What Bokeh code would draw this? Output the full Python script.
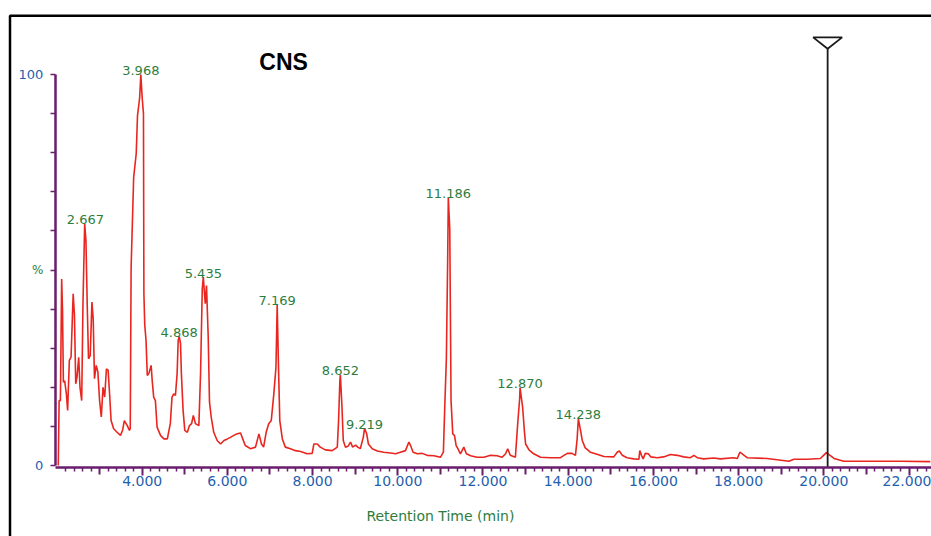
import numpy as np
from bokeh.plotting import figure
from bokeh.models import Range1d, LinearAxis, FixedTicker, NumeralTickFormatter, Label
from bokeh.core.properties import value
from bokeh.embed import file_html
from bokeh.resources import INLINE

# ---------------- data ----------------
rt = [2.03, 2.05, 2.08, 2.11, 2.13, 2.15, 2.18, 2.22, 2.25, 2.29, 2.33, 2.38, 2.41, 2.44, 2.47,
      2.51, 2.54, 2.58, 2.61, 2.65, 2.68, 2.71, 2.74, 2.78, 2.82, 2.85, 2.88, 2.92, 2.96, 3.00,
      3.04, 3.08, 3.12, 3.16, 3.20, 3.23, 3.27, 3.33, 3.41, 3.49, 3.54, 3.58, 3.65, 3.70, 3.72,
      3.74, 3.80, 3.86, 3.89, 3.94, 3.968, 4.00, 4.03, 4.04, 4.06, 4.09, 4.12, 4.155, 4.21, 4.235,
      4.27, 4.31, 4.35, 4.43, 4.51, 4.59, 4.66, 4.70, 4.74, 4.78, 4.82, 4.845, 4.868, 4.90, 4.92,
      4.96, 5.00, 5.06, 5.11, 5.16, 5.20, 5.25, 5.33, 5.37, 5.41, 5.435, 5.48, 5.51, 5.55, 5.58,
      5.62, 5.68, 5.76, 5.84, 5.92, 6.00, 6.07, 6.15, 6.23, 6.31, 6.36, 6.42, 6.54, 6.66, 6.74,
      6.80, 6.85, 6.91, 6.97, 7.03, 7.09, 7.14, 7.169, 7.20, 7.23, 7.29, 7.36, 7.48, 7.60, 7.72,
      7.87, 7.99, 8.03, 8.11, 8.18, 8.30, 8.46, 8.58, 8.61, 8.64, 8.652, 8.69, 8.72, 8.77, 8.83,
      8.89, 8.94, 9.01, 9.06, 9.12, 9.19, 9.219, 9.27, 9.31, 9.40, 9.52, 9.67, 9.83, 9.95, 10.06,
      10.18, 10.26, 10.30, 10.36, 10.46, 10.57, 10.69, 10.85, 11.00, 11.07, 11.10, 11.14, 11.17, 11.186, 11.22,
      11.25, 11.29, 11.33, 11.37, 11.41, 11.47, 11.55, 11.61, 11.71, 11.86, 12.02, 12.18, 12.33, 12.45, 12.53,
      12.58, 12.64, 12.76, 12.82, 12.86, 12.870, 12.93, 12.97, 13.00, 13.08, 13.19, 13.35, 13.58, 13.82, 13.90,
      13.98, 14.09, 14.17, 14.21, 14.238, 14.29, 14.33, 14.40, 14.52, 14.64, 14.84, 15.07, 15.15, 15.20, 15.27,
      15.38, 15.54, 15.66, 15.68, 15.72, 15.76, 15.81, 15.88, 15.94, 16.09, 16.24, 16.40, 16.56, 16.71, 16.87,
      16.95, 17.03, 17.18, 17.42, 17.57, 17.88, 17.97, 18.03, 18.20, 18.67, 19.18, 19.30, 19.61, 19.92, 20.06,
      20.24, 20.47, 21.80, 22.50]
intensity = [0.0, 16.6, 16.6, 47.7, 39.6, 21.3, 21.7, 18.3, 14.1, 26.9, 27.7, 43.9, 38.4, 20.9, 22.6,
             27.7, 20.0, 16.6, 41.4, 61.8, 57.5, 40.9, 27.3, 28.1, 41.8, 37.5, 22.2, 25.6, 23.9, 16.6,
             12.4, 20.0, 17.5, 24.7, 24.4, 19.2, 11.5, 9.4, 8.5, 7.7, 9.0, 11.5, 10.2, 9.0, 9.5,
             50.7, 73.7, 79.8, 89.5, 94.0, 100.0, 94.0, 90.0, 44.0, 36.0, 32.0, 23.0, 23.5, 25.6, 21.7,
             17.5, 16.6, 9.8, 7.7, 6.8, 6.8, 10.7, 17.5, 18.3, 17.9, 23.5, 32.0, 33.0, 31.2, 23.5,
             14.1, 9.0, 8.5, 10.2, 10.7, 12.8, 10.7, 10.2, 23.5, 45.2, 48.2, 41.4, 46.0, 32.8, 16.2,
             12.4, 8.5, 6.4, 5.5, 6.4, 6.8, 7.2, 7.7, 8.1, 8.3, 6.8, 5.1, 4.3, 4.7, 8.1,
             5.5, 4.7, 8.5, 10.7, 11.5, 18.3, 25.1, 41.1, 25.1, 11.5, 6.8, 4.7, 4.3, 3.8, 3.6,
             3.0, 3.1, 5.5, 5.5, 4.7, 4.0, 3.8, 4.7, 11.5, 21.7, 23.2, 14.9, 6.4, 4.7, 4.9,
             6.0, 4.7, 5.2, 4.7, 4.3, 7.2, 9.5, 8.1, 5.5, 4.3, 3.7, 3.4, 3.2, 3.0, 3.4,
             3.8, 6.0, 5.1, 3.4, 3.0, 3.1, 2.6, 2.5, 2.1, 3.4, 14.1, 27.3, 52.0, 68.6, 60.5,
             16.6, 8.1, 7.7, 5.1, 4.3, 3.0, 4.7, 3.0, 2.5, 2.1, 2.1, 2.6, 2.5, 2.1, 3.0,
             4.3, 2.6, 2.1, 11.5, 17.0, 19.9, 14.9, 9.0, 5.5, 4.0, 3.0, 2.1, 2.0, 2.0, 2.6,
             3.1, 3.1, 2.6, 6.8, 11.9, 9.0, 6.4, 4.5, 3.4, 3.0, 2.3, 2.2, 3.4, 3.7, 2.6,
             2.0, 1.7, 1.6, 3.8, 2.6, 1.7, 3.1, 3.0, 2.2, 2.0, 2.2, 2.8, 2.6, 2.2, 2.0,
             2.6, 2.0, 1.7, 1.9, 1.7, 2.0, 1.8, 3.4, 2.0, 1.8, 1.1, 1.6, 1.6, 1.8, 3.3,
             1.8, 1.1, 1.1, 1.0]

peak_rt = [2.667, 3.968, 4.868, 5.435, 7.169, 8.652, 9.219, 11.186, 12.870, 14.238]
peak_height = [61.8, 100.0, 33.0, 48.2, 41.1, 23.2, 9.5, 68.6, 19.9, 11.9]
peak_label = ["2.667", "3.968", "4.868", "5.435", "7.169", "8.652", "9.219", "11.186", "12.870", "14.238"]

x_major_ticks = [4, 6, 8, 10, 12, 14, 16, 18, 20, 22]
x_odd_ticks = [3, 5, 7, 9, 11, 13, 15, 17, 19, 21]
y_label_ticks = [0, 100]
y_small_ticks = [10, 20, 30, 40, 50, 60, 70, 80, 90]
y_mid_tick = [50]
y_mid_label = {50: "%"}

marker_rt = 20.09
title_text = "CNS"
x_title = "Retention Time (min)"

# ---------------- styling ----------------
RED = "#e8261f"
PURPLE = "#6a1d6c"
BLUE = "#1f5fae"
GREEN = "#2e7d3e"

X_START, X_END = 0.674, 22.528
Y_START, Y_END = -18.16, 118.93
AXIS_X = 1.96      # where the y axis sits (min)
AXIS_Y = -0.4      # where the x axis sits (%)

p = figure(width=931, height=536, output_backend="svg", toolbar_location=None,
           x_range=Range1d(X_START, X_END), y_range=Range1d(Y_START, Y_END),
           x_axis_type=None, y_axis_type=None, title_location=None, min_border=0)
p.min_border_left = p.min_border_right = p.min_border_top = p.min_border_bottom = 0
p.outline_line_color = None
p.background_fill_color = "white"
p.border_fill_color = "white"

# outer frame (left and top edges)
FRAME_LEFT = 0.897
FRAME_TOP = 115.0
p.line(x=[FRAME_LEFT, FRAME_LEFT, X_END + 1], y=[Y_START - 5, FRAME_TOP, FRAME_TOP],
       line_color="black", line_width=2.5)

# x axis (even ticks, labelled; 0.2-min minor ticks)
minor = [round(v, 1) for v in np.arange(2.2, 22.6, 0.2) if abs(v - round(v)) > 1e-6]
xaxis = LinearAxis(fixed_location=AXIS_Y, bounds=(AXIS_X, 22.6),
                   ticker=FixedTicker(ticks=x_major_ticks, minor_ticks=minor),
                   formatter=NumeralTickFormatter(format="0.000"))
xaxis.axis_line_color = PURPLE
xaxis.axis_line_width = 2.5
xaxis.major_tick_line_color = PURPLE
xaxis.major_tick_line_width = 2
xaxis.major_tick_in = 0
xaxis.major_tick_out = 8
xaxis.minor_tick_line_color = PURPLE
xaxis.minor_tick_line_width = 1.5
xaxis.minor_tick_in = 0
xaxis.minor_tick_out = 4
xaxis.major_label_text_color = BLUE
xaxis.major_label_text_font = "DejaVu Sans"
xaxis.major_label_text_font_size = "14px"
xaxis.major_label_standoff = 1
p.add_layout(xaxis, "below")

# odd-minute ticks (medium length, no labels) drawn as minor ticks of a second axis
xaxis2 = LinearAxis(fixed_location=AXIS_Y, bounds=(AXIS_X, 22.6),
                    ticker=FixedTicker(ticks=[], minor_ticks=x_odd_ticks))
xaxis2.axis_line_color = None
xaxis2.major_tick_line_color = None
xaxis2.minor_tick_line_color = PURPLE
xaxis2.minor_tick_line_width = 2
xaxis2.minor_tick_in = 0
xaxis2.minor_tick_out = 7
p.add_layout(xaxis2, "below")

# y axis: labelled 0 / 100, unlabelled 10% ticks as minor ticks
yaxis = LinearAxis(fixed_location=AXIS_X, bounds=(0, 100),
                   ticker=FixedTicker(ticks=y_label_ticks, minor_ticks=y_small_ticks))
yaxis.axis_line_color = PURPLE
yaxis.axis_line_width = 2.5
yaxis.major_tick_line_color = PURPLE
yaxis.major_tick_line_width = 1.5
yaxis.major_tick_in = 0
yaxis.major_tick_out = 5
yaxis.minor_tick_line_color = PURPLE
yaxis.minor_tick_line_width = 1.5
yaxis.minor_tick_in = 0
yaxis.minor_tick_out = 5
yaxis.major_label_text_color = BLUE
yaxis.major_label_text_font = "DejaVu Sans"
yaxis.major_label_text_font_size = "13px"
yaxis.major_label_standoff = 7
p.add_layout(yaxis, "left")

# "%" label at 50
yaxis2 = LinearAxis(fixed_location=AXIS_X, bounds=(0, 100),
                    ticker=FixedTicker(ticks=y_mid_tick, minor_ticks=[]))
yaxis2.major_label_overrides = y_mid_label
yaxis2.axis_line_color = None
yaxis2.major_tick_line_color = None
yaxis2.major_tick_in = 0
yaxis2.major_tick_out = 5
yaxis2.minor_tick_line_color = None
yaxis2.major_label_text_color = GREEN
yaxis2.major_label_text_font = "DejaVu Sans"
yaxis2.major_label_text_font_size = "12px"
yaxis2.major_label_standoff = 7
p.add_layout(yaxis2, "left")

# trace
p.line(rt, intensity, line_color=RED, line_width=1.6)

# peak labels
p.text(x=peak_rt, y=peak_height, text=peak_label, text_align="center",
       text_baseline="alphabetic", y_offset=-4, text_color=GREEN,
       text_font=value("DejaVu Sans"), text_font_size="13px")

# end-of-run marker
p.segment(x0=[marker_rt], y0=[AXIS_Y], x1=[marker_rt], y1=[106.6],
          line_color="#1a1a1a", line_width=1.8)
p.patch(x=[marker_rt - 0.34, marker_rt + 0.34, marker_rt], y=[109.5, 109.5, 106.6],
        fill_color="white", line_color="#1a1a1a", line_width=1.8)

# title and axis title
p.add_layout(Label(x=6.75, y=103.1, text=title_text, text_font="Liberation Sans",
                   text_font_style="bold", text_font_size="23px", text_color="black",
                   text_baseline="alphabetic", text_align="left"))
p.add_layout(Label(x=11.0, y=-12.8, text=x_title, text_font="DejaVu Sans",
                   text_font_size="14px", text_color=GREEN,
                   text_baseline="middle", text_align="center"))

open("out.html", "w").write(file_html(p, INLINE))
